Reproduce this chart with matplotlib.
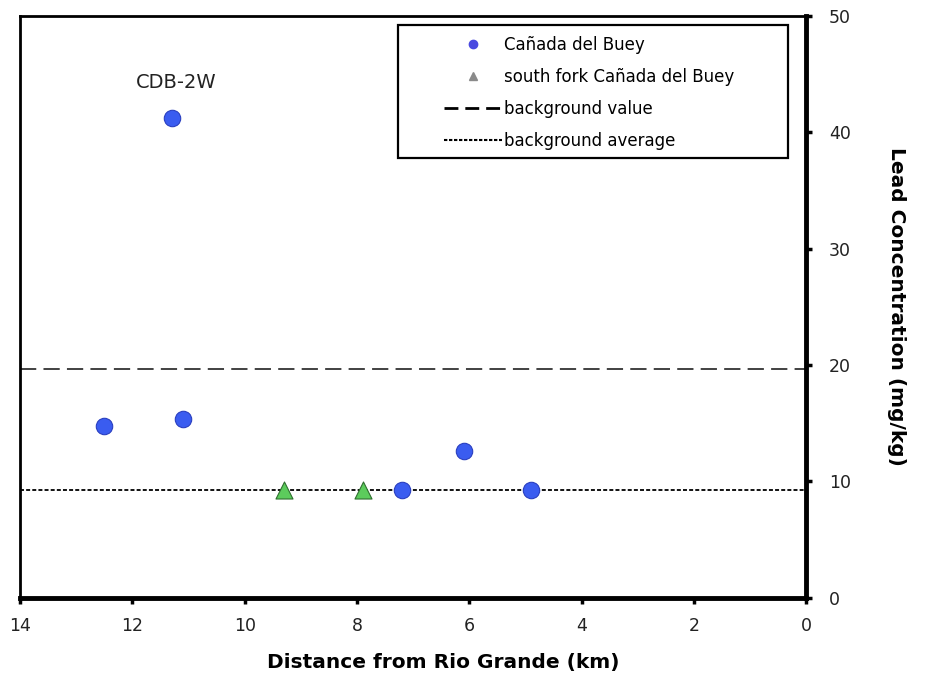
import matplotlib
matplotlib.use("Agg")
import matplotlib.pyplot as plt
from matplotlib.lines import Line2D
from matplotlib.patches import Rectangle

# Lead in sediment along Cañada del Buey
cdb_km = [12.5, 11.3, 11.1, 7.2, 6.1, 4.9]
cdb_pb = [14.8, 41.2, 15.4, 9.3, 12.6, 9.3]
sf_km = [9.3, 7.9]
sf_pb = [9.3, 9.3]
bg_value = 19.7
bg_average = 9.3
callout_km = 11.3
callout_pb = 41.2
callout_text = "CDB-2W"

plt.rcParams['font.family'] = ['DejaVu Sans']

fig = plt.figure(figsize=(9.33, 6.88), dpi=100)
ax = fig.add_axes([0.0214, 0.131, 0.843, 0.846])

ax.axhline(bg_value, color='#333333', lw=1.3, dashes=(9, 4), zorder=1)
ax.axhline(bg_average, color='black', lw=1.3, dashes=(2.2, 1.2), zorder=1)

ax.scatter(cdb_km, cdb_pb, s=140, marker='o', color='#3a5cf0',
           edgecolors='#2a3fc0', linewidths=0.8, zorder=3)
ax.scatter(sf_km, sf_pb, s=150, marker='^', color='#5ccc5c',
           edgecolors='#2f6f2f', linewidths=0.8, zorder=3)

ax.annotate(callout_text, (callout_km, callout_pb), xytext=(3, 19),
            textcoords='offset points', ha='center', va='bottom',
            fontsize=14, color='#222222')

ax.set_xlim(14, 0)
ax.set_ylim(0, 50)
ax.set_xticks(range(14, -1, -2))
ax.set_yticks(range(0, 51, 10))

ax.yaxis.tick_right()
ax.yaxis.set_label_position('right')
ax.tick_params(direction='out', length=4, width=2.5, labelsize=12.5,
               colors='black', labelcolor='#222222', pad=10)
ax.tick_params(axis='y', pad=12)

for side in ['left', 'top']:
    ax.spines[side].set_linewidth(2)
for side in ['right', 'bottom']:
    ax.spines[side].set_linewidth(3.5)

ax.set_xlabel('Distance from Rio Grande (km)', fontsize=14.5, fontweight='bold',
              labelpad=13)
ax.xaxis.label.set_x(0.538)
ax.set_ylabel('Lead Concentration (mg/kg)', fontsize=14.5, fontweight='bold',
              rotation=270, labelpad=40)

# legend box drawn separately so its padding can be wider than the text
ax.add_patch(Rectangle((0.481, 0.756), 0.495, 0.2285, transform=ax.transAxes,
                       fill=True, facecolor='white', edgecolor='black',
                       lw=1.6, zorder=4))
handles = [
    Line2D([], [], ls='none', marker='o', ms=6, color='#4a4ae0'),
    Line2D([], [], ls='none', marker='^', ms=6, color='#8a8a8a'),
    Line2D([], [], color='black', lw=2, dashes=(5, 2.5)),
    Line2D([], [], color='black', lw=1.5, dashes=(1.6, 0.8)),
]
labels = ['Cañada del Buey', 'south fork Cañada del Buey',
          'background value', 'background average']
leg = ax.legend(handles, labels, loc='upper left',
                bbox_to_anchor=(0.539, 0.966), frameon=False, fontsize=12,
                handlelength=3.5, handletextpad=0.1, labelspacing=0.85,
                borderpad=0, borderaxespad=0)
leg.set_zorder(5)

fig.savefig('out.png', dpi=100)
